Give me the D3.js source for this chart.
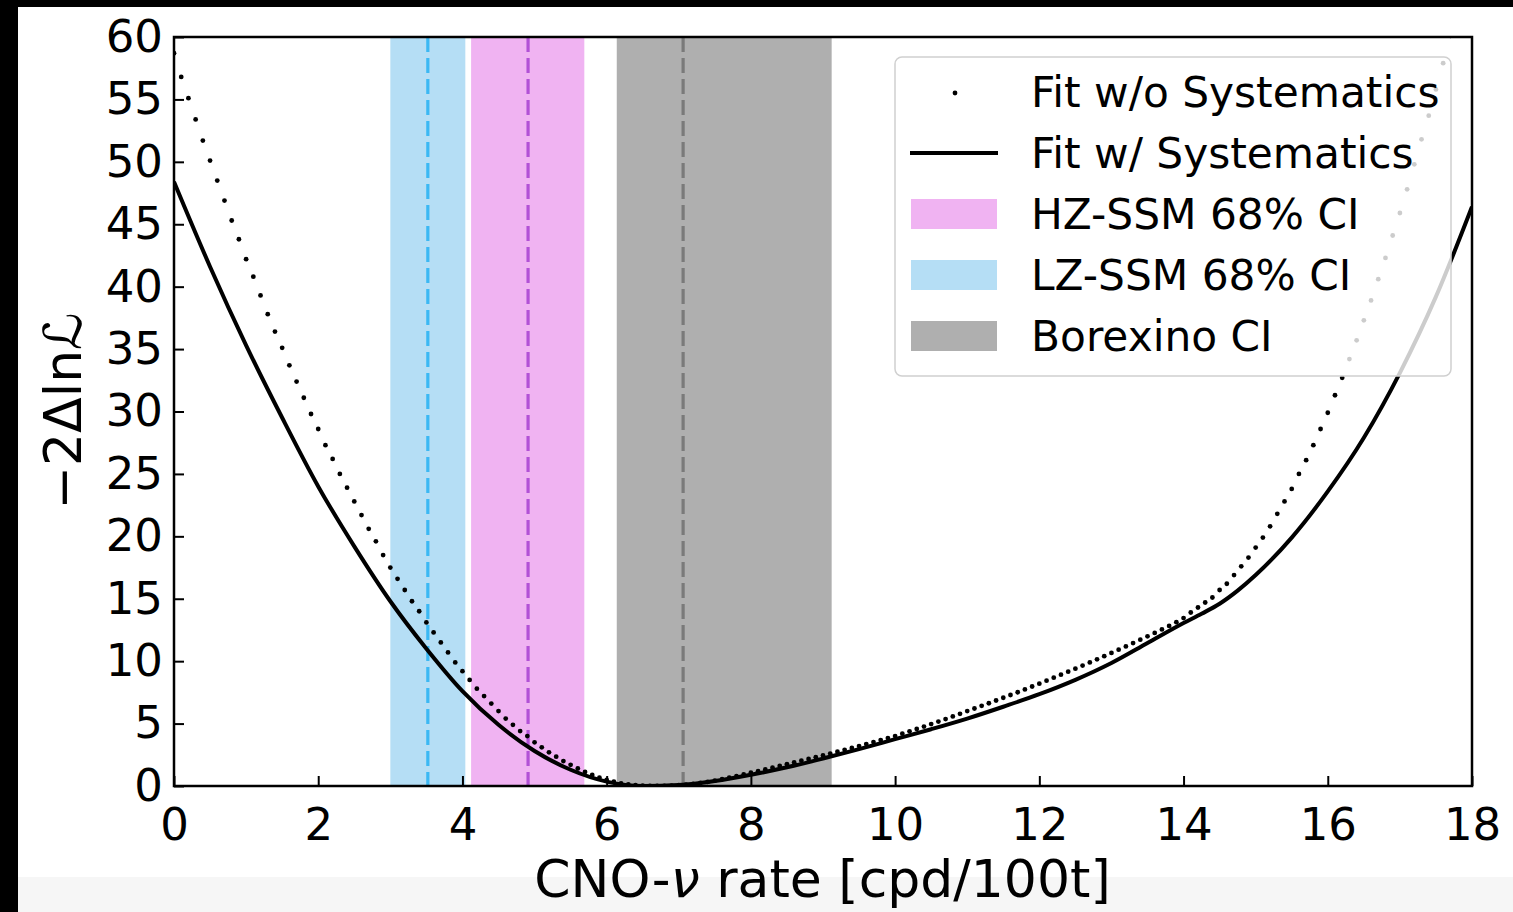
<!DOCTYPE html>
<html>
<head>
<meta charset="utf-8">
<script src="https://cdn.jsdelivr.net/npm/d3@7"></script>
<style>
  body { margin: 0; background: #fff; }
  svg { display: block; font-family: "DejaVu Sans", sans-serif; }
</style>
</head>
<body>
<div id="chart"></div>
<script>
// dotted fit, no systematics (0.1 steps)
var dotRate = [
  0.0,0.1,0.2,0.3,0.4,0.5,0.6,0.7,0.8,0.9,1.0,1.1,1.2,1.3,1.4,1.5,1.6,1.7,1.8,1.9,
  2.0,2.1,2.2,2.3,2.4,2.5,2.6,2.7,2.8,2.9,3.0,3.1,3.2,3.3,3.4,3.5,3.6,3.7,3.8,3.9,
  4.0,4.1,4.2,4.3,4.4,4.5,4.6,4.7,4.8,4.9,5.0,5.1,5.2,5.3,5.4,5.5,5.6,5.7,5.8,5.9,
  6.0,6.1,6.2,6.3,6.4,6.5,6.6,6.7,6.8,6.9,7.0,7.1,7.2,7.3,7.4,7.5,7.6,7.7,7.8,7.9,
  8.0,8.1,8.2,8.3,8.4,8.5,8.6,8.7,8.8,8.9,9.0,9.1,9.2,9.3,9.4,9.5,9.6,9.7,9.8,9.9,
  10.0,10.1,10.2,10.3,10.4,10.5,10.6,10.7,10.8,10.9,11.0,11.1,11.2,11.3,11.4,11.5,11.6,11.7,11.8,11.9,
  12.0,12.1,12.2,12.3,12.4,12.5,12.6,12.7,12.8,12.9,13.0,13.1,13.2,13.3,13.4,13.5,13.6,13.7,13.8,13.9,
  14.0,14.1,14.2,14.3,14.4,14.5,14.6,14.7,14.8,14.9,15.0,15.1,15.2,15.3,15.4,15.5,15.6,15.7,15.8,15.9,
  16.0,16.1,16.2,16.3,16.4,16.5,16.6,16.7,16.8,16.9,17.0,17.1,17.2,17.3,17.4,17.5,17.6,17.7
];
var dotNll = [
  58.7,56.8,55.1,53.4,51.7,50.1,48.5,46.9,45.3,43.8,42.2,40.8,39.3,37.8,36.4,35.1,33.7,32.4,31.1,29.8,
  28.6,27.3,26.2,25.0,23.9,22.8,21.7,20.6,19.6,18.5,17.5,16.6,15.7,14.8,14.0,13.1,12.3,11.5,10.7,9.9,
  9.2,8.5,7.8,7.2,6.6,6.0,5.4,4.9,4.4,4.0,3.5,3.1,2.7,2.35,2.0,1.7,1.4,1.13,0.89,0.67,
  0.49,0.34,0.21,0.12,0.06,0.02,0.0,0.0,0.01,0.03,0.06,0.1,0.16,0.24,0.33,0.43,0.54,0.66,0.79,0.92,
  1.06,1.19,1.33,1.47,1.61,1.75,1.89,2.03,2.17,2.31,2.45,2.6,2.75,2.9,3.05,3.2,3.36,3.52,3.68,3.84,
  4.0,4.19,4.38,4.57,4.76,4.96,5.16,5.36,5.57,5.78,6.0,6.21,6.42,6.63,6.85,7.07,7.29,7.51,7.74,7.97,
  8.2,8.44,8.68,8.92,9.16,9.4,9.65,9.9,10.15,10.4,10.66,10.92,11.18,11.45,11.72,11.99,12.26,12.54,12.82,13.12,
  13.45,13.9,14.3,14.7,15.1,15.7,16.2,16.9,17.6,18.3,19.1,19.9,20.8,21.8,22.8,23.8,25.0,26.1,27.3,28.6,
  29.9,31.3,32.7,34.2,35.7,37.3,38.9,40.6,42.3,44.1,45.9,47.8,49.8,51.8,53.7,55.8,57.9,60.1
];

// solid fit, with systematics
var lineRate = [0,0.5,1,1.5,2,2.5,3,3.5,4,4.5,5,5.5,6,6.5,7,7.5,8,8.5,9,9.5,10,10.5,11,11.5,12,12.5,13,13.5,14,14.25,14.5,14.75,15,15.5,16,16.5,17,17.5,18];
var lineNll = [48.4,41.6,35.3,29.5,24.0,19.2,14.8,11.0,7.6,4.9,2.8,1.3,0.35,0.0,0.08,0.4,0.9,1.5,2.2,2.95,3.75,4.55,5.4,6.35,7.35,8.5,9.85,11.45,13.05,13.8,14.6,15.65,16.9,19.9,23.6,27.9,33.1,39.2,46.4];

// confidence bands: [low, high], central value
var bandNames = ["HZ-SSM 68% CI", "LZ-SSM 68% CI", "Borexino CI"];
var bandLow = [4.12, 3.0, 6.14];
var bandHigh = [5.69, 4.04, 9.12];
var bandMid = [4.91, 3.52, 7.06];
var bandColors = ["#f0b3f2", "#b5def5", "#afafaf"];
var dashColors = ["#b251d6", "#3bb8f4", "#7a7a7a"];

var xTicks = [0, 2, 4, 6, 8, 10, 12, 14, 16, 18];
var yTicks = [0, 5, 10, 15, 20, 25, 30, 35, 40, 45, 50, 55, 60];

var W = 1513, H = 912;
var pLeft = 174, pRight = 1472, pTop = 37, pBottom = 786;

var svg = d3.select("#chart").append("svg")
  .attr("width", W).attr("height", H);

// page frame bits around the figure
svg.append("rect").attr("x", 0).attr("y", 0).attr("width", W).attr("height", H).attr("fill", "#fff");
svg.append("rect").attr("x", 18).attr("y", 877).attr("width", W - 18).attr("height", H - 877).attr("fill", "#f6f6f6");
svg.append("rect").attr("x", 0).attr("y", 0).attr("width", W).attr("height", 7).attr("fill", "#000");
svg.append("rect").attr("x", 0).attr("y", 0).attr("width", 18).attr("height", H).attr("fill", "#000");

var x = d3.scaleLinear().domain([0, 18]).range([pLeft, pRight]);
var y = d3.scaleLinear().domain([0, 60]).range([pBottom, pTop]);

svg.append("clipPath").attr("id", "plotclip")
  .append("rect")
  .attr("x", pLeft).attr("y", pTop)
  .attr("width", pRight - pLeft).attr("height", pBottom - pTop);

var plot = svg.append("g").attr("clip-path", "url(#plotclip)");

// bands
plot.selectAll("rect.band")
  .data(bandNames)
  .enter().append("rect")
  .attr("class", "band")
  .attr("x", function(d, i) { return x(bandLow[i]); })
  .attr("width", function(d, i) { return x(bandHigh[i]) - x(bandLow[i]); })
  .attr("y", y(60)).attr("height", y(0) - y(60))
  .attr("fill", function(d, i) { return bandColors[i]; });

plot.selectAll("line.mid")
  .data(bandNames)
  .enter().append("line")
  .attr("class", "mid")
  .attr("x1", function(d, i) { return x(bandMid[i]); })
  .attr("x2", function(d, i) { return x(bandMid[i]); })
  .attr("y1", y(60)).attr("y2", y(0))
  .attr("stroke", function(d, i) { return dashColors[i]; })
  .attr("stroke-width", 3.2)
  .attr("stroke-dasharray", "15,6");

// dotted series
plot.selectAll("circle.dot")
  .data(dotRate)
  .enter().append("circle")
  .attr("class", "dot")
  .attr("cx", function(d) { return x(d); })
  .attr("cy", function(d, i) { return y(dotNll[i]); })
  .attr("r", 2.4)
  .attr("fill", "#000");

// solid series
var line = d3.line()
  .x(function(d) { return x(d); })
  .y(function(d, i) { return y(lineNll[i]); })
  .curve(d3.curveMonotoneX);

plot.append("path")
  .datum(lineRate)
  .attr("d", line)
  .attr("fill", "none")
  .attr("stroke", "#000")
  .attr("stroke-width", 4);

// axes, ticks pointing inward
var xAxis = svg.append("g")
  .attr("transform", "translate(0," + pBottom + ")")
  .call(d3.axisBottom(x).tickValues(xTicks).tickSize(-10).tickSizeOuter(0).tickPadding(22));
var yAxis = svg.append("g")
  .attr("transform", "translate(" + pLeft + ",0)")
  .call(d3.axisLeft(y).tickValues(yTicks).tickSize(-10).tickSizeOuter(0).tickPadding(11));

[xAxis, yAxis].forEach(function(a) {
  a.select(".domain").remove();
  a.selectAll(".tick line").attr("stroke", "#000").attr("stroke-width", 2);
  a.selectAll(".tick text")
    .attr("fill", "#000")
    .style("font-size", "45px")
    .style("font-family", "DejaVu Sans");
});

svg.append("rect")
  .attr("x", pLeft).attr("y", pTop)
  .attr("width", pRight - pLeft).attr("height", pBottom - pTop)
  .attr("fill", "none")
  .attr("stroke", "#000")
  .attr("stroke-width", 2.5);

// axis titles
var xl = svg.append("text")
  .attr("x", (pLeft + pRight) / 2 - 0.5)
  .attr("y", 897)
  .attr("text-anchor", "middle")
  .style("font-size", "52px")
  .attr("fill", "#000");
xl.append("tspan").text("CNO-");
xl.append("tspan").style("font-style", "italic").text("ν");
xl.append("tspan").text(" rate [cpd/100t]");

svg.append("text")
  .attr("transform", "translate(81,411) rotate(-90)")
  .attr("text-anchor", "middle")
  .style("font-size", "52px")
  .attr("fill", "#000")
  .text("−2Δlnℒ");

// legend
var lg = svg.append("g");
lg.append("rect")
  .attr("x", 895).attr("y", 57)
  .attr("width", 556).attr("height", 319)
  .attr("rx", 7).attr("ry", 7)
  .attr("fill", "rgba(255,255,255,0.8)")
  .attr("stroke", "#d0d0d0")
  .attr("stroke-width", 1.5);

var legendNames = ["Fit w/o Systematics", "Fit w/ Systematics"].concat(bandNames);
var rowY = d3.scaleLinear().domain([0, 4]).range([92, 336]);

lg.append("circle").attr("cx", 955).attr("cy", rowY(0) + 1).attr("r", 2.4).attr("fill", "#000");
lg.append("line")
  .attr("x1", 910).attr("x2", 998)
  .attr("y1", rowY(1)).attr("y2", rowY(1))
  .attr("stroke", "#000").attr("stroke-width", 4);
lg.selectAll("rect.patch")
  .data(bandNames)
  .enter().append("rect")
  .attr("class", "patch")
  .attr("x", 911).attr("width", 86)
  .attr("y", function(d, i) { return rowY(i + 2) - 15; })
  .attr("height", 30)
  .attr("fill", function(d, i) { return bandColors[i]; });

lg.selectAll("text")
  .data(legendNames)
  .enter().append("text")
  .attr("x", 1031)
  .attr("y", function(d, i) { return rowY(i); })
  .attr("dy", "0.35em")
  .style("font-size", "42.3px")
  .attr("fill", "#000")
  .text(function(d) { return d; });
</script>
</body>
</html>
